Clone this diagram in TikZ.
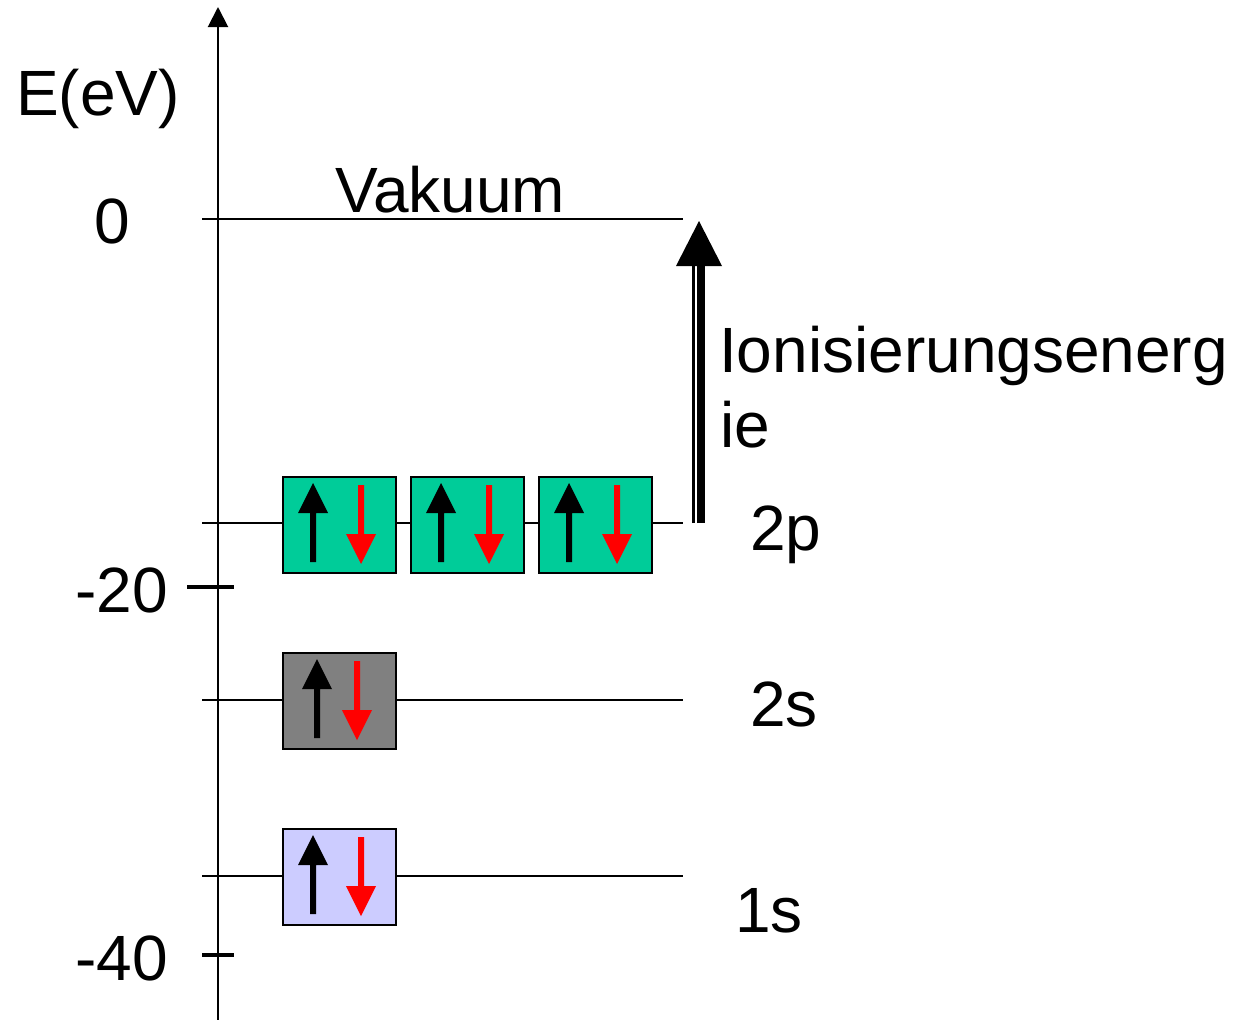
\documentclass[tikz,border=0pt]{standalone}
\usepackage{fontspec}
\setmainfont{Liberation Sans}
\usetikzlibrary{arrows.meta}
\definecolor{orbgreen}{HTML}{00CC99}
\definecolor{orbgray}{HTML}{808080}
\definecolor{orblav}{HTML}{CCCCFF}
% #1 box left x, #2 box top y, #3 black x offset, #4 red x offset
\newcommand{\spinpair}[4]{%
  \fill[black] ({#1+#3-3},{#2+86}) -- ({#1+#3-3},{#2+37}) -- ({#1+#3-15},{#2+37})
     -- ({#1+#3},{#2+7}) -- ({#1+#3+15},{#2+37}) -- ({#1+#3+3},{#2+37})
     -- ({#1+#3+3},{#2+86}) -- cycle;
  \fill[red] ({#1+#4-3},{#2+9}) -- ({#1+#4-3},{#2+58}) -- ({#1+#4-15},{#2+58})
     -- ({#1+#4},{#2+88}) -- ({#1+#4+15},{#2+58}) -- ({#1+#4+3},{#2+58})
     -- ({#1+#4+3},{#2+9}) -- cycle;
}
\begin{document}
\begin{tikzpicture}[x=1pt,y=-1pt,
  lbl/.style={inner sep=0pt,anchor=base west,font=\fontsize{64}{75}\selectfont},
  level/.style={line width=1.5pt,black},
  orb/.style={draw=black,line width=2pt,minimum width=113pt,minimum height=96pt,inner sep=0pt,anchor=north west},
  tick/.style={line width=4pt,black}]
\useasboundingbox (0,0) rectangle (1235,1020);
% axis
\coordinate (axb) at (218,1020);
\coordinate (axt) at (218,7);
\draw[line width=2pt,-{Triangle[width=20pt,length=20pt]}] (axb) -- (axt);
% ticks
\coordinate (t20a) at (187,587); \coordinate (t20b) at (234,587);
\coordinate (t40a) at (202,955); \coordinate (t40b) at (234,955);
\draw[tick] (t20a) -- (t20b);
\draw[tick] (t40a) -- (t40b);
% level lines
\foreach \n/\y in {vac/219,lp/523,ls2/700,ls1/876}{
  \coordinate (\n a) at (202,\y); \coordinate (\n b) at (683,\y);
  \draw[level] (\n a) -- (\n b);
}
% orbital boxes
\node[orb,fill=orbgreen] (p1) at (282,476) {};
\node[orb,fill=orbgreen] (p2) at (410,476) {};
\node[orb,fill=orbgreen] (p3) at (538,476) {};
\node[orb,fill=orbgray] (s2) at (282,652) {};
\node[orb,fill=orblav] (s1) at (282,828) {};
\spinpair{282}{476}{31}{79}
\spinpair{410}{476}{31}{79}
\spinpair{538}{476}{31}{79}
\spinpair{282}{652}{35}{75}
\spinpair{282}{828}{31}{79}
% ionisation arrow
\coordinate (ionb) at (699,523);
\coordinate (iont) at (699,221);
\draw[line width=2.5pt] ([xshift=-5.5pt]ionb) -- ([xshift=-5.5pt,yshift=258pt]ionb);
\draw[line width=7.5pt] ([xshift=2pt]ionb) -- ([xshift=2pt,yshift=258pt]ionb);
\fill ([xshift=-23pt,yshift=-45pt]iont) -- (iont) -- ([xshift=23pt,yshift=-45pt]iont) -- cycle;
% labels
\node[lbl] (eev) at (16,115) {E(eV)};
\node[lbl] (zero) at (94,243) {0};
\node[lbl] (vak) at (335,212) {Vakuum};
\node[lbl] (ion1) at (719,372) {Ionisierungsenerg};
\node[lbl] (ion2) at (720,447) {ie};
\node[lbl] (l2p) at (750,550) {2p};
\node[lbl] (l2s) at (750,726) {2s};
\node[lbl] (l1s) at (735,932) {1s};
\node[lbl] (m20) at (75,612) {-20};
\node[lbl] (m40) at (75,980) {-40};
\end{tikzpicture}
\end{document}
